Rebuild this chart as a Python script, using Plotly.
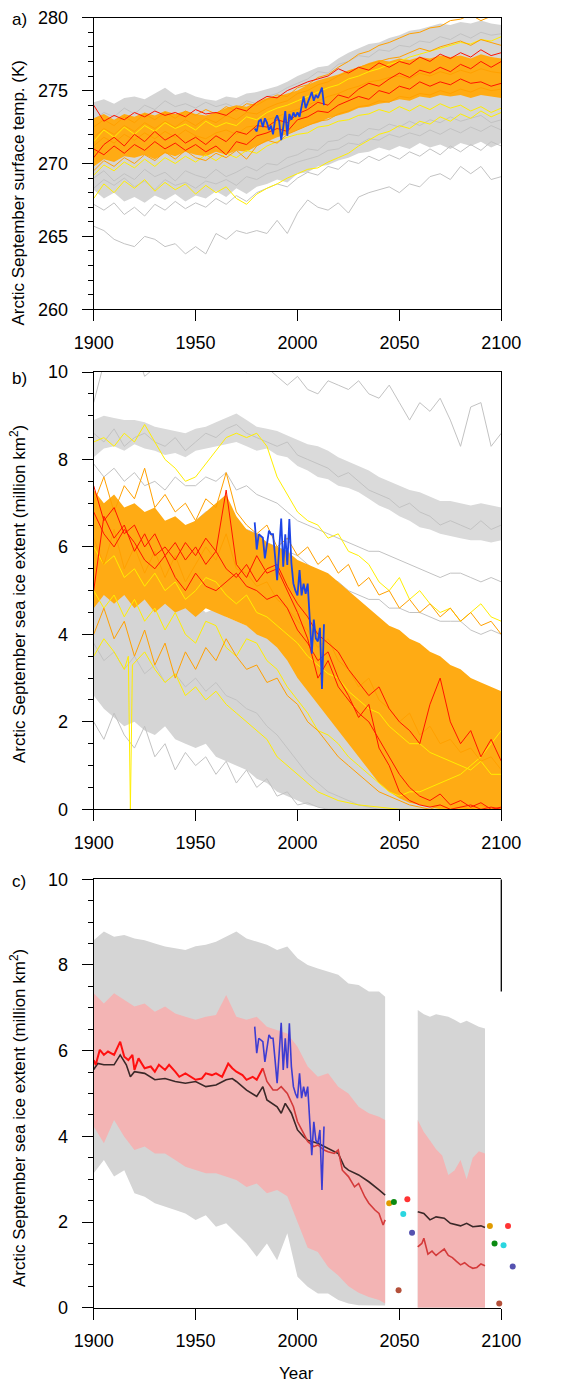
import plotly.graph_objects as go

FONT = "Liberation Sans, Arial, Helvetica, sans-serif"
YEARS_5 = list(range(1900, 2101, 5))
X_TICKS = [1900, 1950, 2000, 2050, 2100]
OBS_YEARS = list(range(1979, 2014))

# ---------------- panel a: September surface temperature (K) ----------------
GA_LO = [268.2, 267.6, 268.0, 267.4, 267.7, 267.3, 267.8, 267.5, 267.9, 267.4,
         267.8, 267.6, 268.1, 267.7, 268.3, 267.9, 268.4, 268.6, 268.9, 268.7,
         269.3, 269.4, 269.8, 269.9, 270.2, 270.4, 270.7, 270.8, 271.1, 270.9,
         271.2, 271.0, 271.4, 271.1, 271.3, 271.0, 271.4, 271.2, 271.5, 271.1, 271.4]
GA_HI = [274.2, 274.4, 274.1, 274.5, 274.6, 274.4, 274.8, 275.2, 274.7, 274.9,
         274.6, 274.4, 274.3, 274.6, 274.5, 274.8, 274.9, 275.1, 275.3, 275.6,
         276.0, 276.3, 276.6, 276.7, 277.2, 277.6, 277.9, 278.2, 278.3, 278.6,
         278.8, 279.1, 279.2, 279.4, 279.6, 279.5, 279.7, 279.6, 279.8, 279.6, 279.5]
OA_LO = [269.8, 270.3, 270.1, 270.5, 270.4, 270.6, 270.3, 270.7, 270.5, 270.8,
         270.6, 270.5, 270.8, 270.6, 270.9, 270.8, 271.2, 271.5, 271.8, 272.0,
         272.3, 272.6, 272.8, 273.1, 273.3, 273.5, 273.8, 273.9, 274.1, 274.2,
         274.4, 274.3, 274.6, 274.5, 274.7, 274.6, 274.7, 274.5, 274.7, 274.6, 274.5]
OA_HI = [273.1, 273.4, 273.0, 273.4, 273.2, 273.5, 273.3, 273.6, 273.4, 273.6,
         273.4, 273.3, 273.5, 273.8, 274.0, 273.9, 274.2, 274.5, 274.6, 274.8,
         275.0, 275.4, 275.7, 275.9, 276.1, 276.4, 276.6, 276.9, 277.1, 277.0,
         277.2, 277.1, 277.3, 277.2, 277.4, 277.3, 277.4, 277.2, 277.5, 277.3, 277.2]
GA_LINES = [
    [265.7, 265.4, 264.8, 264.5, 264.3, 265.0, 264.8, 264.3, 264.5, 263.8,
     264.3, 263.8, 265.2, 264.8, 265.4, 265.2, 265.4, 265.2, 266.1, 265.2,
     266.6, 267.5, 267.0, 266.8, 267.3, 266.6, 267.7, 268.0, 268.2, 268.4,
     268.0, 268.6, 268.4, 269.1, 269.3, 268.9, 269.8, 269.3, 269.8, 268.9, 269.1],
    [267.2, 266.8, 267.3, 266.5, 267.0, 266.4, 267.2, 266.8, 267.4, 266.9,
     267.3, 267.0, 267.6, 267.2, 267.8, 267.4, 268.0, 268.3, 268.6, 268.4,
     269.0, 269.4, 269.2, 269.8, 269.6, 270.2, 270.0, 270.5, 270.2, 270.6,
     270.3, 270.8, 270.5, 271.0, 270.6, 271.2, 270.8, 271.3, 270.9, 271.5, 271.2],
    [269.0, 269.5, 268.8, 269.3, 268.9, 269.6, 269.1, 269.4, 268.8, 269.5,
     269.2, 269.0, 269.6, 269.1, 269.4, 269.8, 269.5, 270.0, 269.9, 270.4,
     270.6, 271.0, 270.9, 271.5, 271.6, 272.0, 271.9, 272.4, 272.3, 272.7,
     272.5, 272.9, 272.6, 273.0, 272.8, 273.2, 272.9, 273.1, 273.3, 272.8, 273.0],
    [268.3, 268.9, 268.5, 269.0, 268.4, 268.8, 268.2, 268.9, 268.5, 268.7,
     268.3, 268.8, 268.6, 268.9, 268.5, 269.1, 268.9, 269.3, 269.5, 269.8,
     270.1, 270.3, 270.5, 270.9, 271.0, 271.4, 271.3, 271.7, 271.6, 272.0,
     271.8, 272.1, 271.9, 272.3, 272.0, 272.4, 272.1, 272.5, 272.2, 272.6, 272.3],
    [273.0, 273.5, 273.2, 273.8, 273.4, 274.0, 273.7, 274.3, 273.9, 274.1,
     273.8, 274.2, 273.9, 274.1, 273.8, 274.3, 274.1, 274.6, 274.8, 275.2,
     275.5, 275.8, 276.3, 276.2, 276.8, 277.0, 277.4, 277.3, 277.8, 277.7,
     278.1, 278.0, 278.4, 278.3, 278.7, 278.5, 278.9, 278.6, 279.0, 278.8, 278.9],
]
YA_LINES = [
    [267.6, 268.6, 268.0, 268.8, 268.3, 268.9, 268.1, 268.7, 268.2, 268.6,
     267.9, 268.5, 268.0, 268.4, 267.6, 267.2, 267.9, 268.3, 268.6, 269.0,
     269.3, 269.6, 269.7, 270.1, 270.4, 270.7, 271.2, 271.6, 272.0, 272.2,
     272.6, 272.4, 272.9, 272.7, 273.2, 272.9, 273.4, 273.1, 273.6, 273.2, 273.5],
    [271.5, 272.3, 271.8, 272.5, 272.0, 272.6, 272.2, 272.8, 272.4, 272.7,
     272.3, 272.9, 272.5, 272.8, 272.6, 273.2, 273.0, 273.5, 273.8, 274.0,
     274.3, 274.6, 274.9, 275.2, 275.4, 275.8, 276.0, 276.3, 276.5, 276.8,
     277.0, 277.3, 277.5, 277.7, 277.9, 278.1, 278.3, 278.2, 278.5, 278.4, 278.7],
    [269.2, 269.9, 269.5, 270.1, 269.7, 270.3, 269.8, 270.4, 270.0, 270.5,
     270.1, 270.6, 270.2, 270.7, 270.4, 270.9, 270.7, 271.2, 271.5, 271.8,
     272.0, 272.1, 272.5, 272.6, 272.9, 273.0, 273.3, 273.4, 273.7, 273.5,
     273.9, 273.6, 274.0, 273.7, 274.1, 273.8, 274.0, 273.6, 273.9, 273.5, 273.8],
]
OA_LINES = [
    [272.5, 273.0, 272.6, 273.2, 272.8, 273.4, 273.0, 273.5, 273.1, 273.6,
     273.3, 273.7, 273.4, 273.9, 273.6, 274.1, 274.0, 274.4, 274.7, 274.6,
     275.2, 275.4, 275.9, 276.1, 276.6, 277.0, 277.5, 277.7, 278.1, 278.3,
     278.6, 278.9, 279.0, 279.3, 279.4, 279.8, 279.9, 280.2, 279.8, 280.1, 280.3],
    [271.8, 272.4, 272.0, 272.6, 272.2, 272.8, 272.4, 272.9, 272.5, 273.0,
     272.6, 273.1, 272.8, 273.3, 273.0, 273.5, 273.4, 273.8, 274.1, 274.3,
     274.8, 275.0, 275.4, 275.6, 276.0, 276.3, 276.6, 276.8, 277.0, 277.2,
     277.3, 277.6, 277.9, 277.7, 278.0, 278.2, 278.4, 278.1, 278.5, 278.3, 278.1],
    [269.5, 270.2, 269.8, 270.4, 270.0, 270.6, 270.2, 270.8, 270.3, 270.9,
     270.4, 270.2, 270.7, 270.4, 270.9, 270.3, 271.2, 271.6, 271.4, 272.0,
     272.3, 272.6, 272.9, 273.0, 273.4, 273.6, 273.9, 274.0, 274.3, 274.2,
     274.6, 274.5, 274.8, 274.7, 275.0, 274.8, 275.1, 274.9, 275.2, 275.0, 275.1],
    [271.2, 271.8, 271.4, 272.0, 271.6, 272.1, 271.7, 272.2, 271.8, 272.3,
     271.9, 271.7, 272.1, 272.3, 272.0, 272.5, 272.6, 273.0, 273.2, 273.5,
     273.7, 274.0, 274.3, 274.6, 274.8, 275.1, 275.3, 275.6, 275.7, 275.9,
     276.0, 275.8, 276.2, 276.0, 276.3, 276.1, 276.4, 276.2, 276.5, 276.3, 276.2],
]
RA_LINES = [
    [274.0, 272.9, 273.3, 273.0, 273.5, 273.2, 273.6, 273.3, 273.5, 273.2,
     273.7, 273.4, 273.5, 273.3, 273.8, 273.6, 274.2, 274.6, 274.5, 275.0,
     275.3, 275.6, 275.8, 276.0, 276.5, 276.2, 276.6, 276.4, 276.9, 276.6,
     277.0, 276.8, 277.3, 277.0, 277.5, 277.2, 277.6, 277.3, 277.8, 277.4, 277.6],
    [270.4, 271.3, 271.8, 271.2, 272.0, 271.5, 272.2, 271.6, 272.0, 271.4,
     271.8, 271.3, 271.9, 271.5, 272.2, 272.0, 272.6, 272.5, 273.0, 272.8,
     273.4, 273.7, 274.2, 274.0, 274.7, 274.5, 275.1, 275.5, 275.3, 275.8,
     276.2, 275.9, 276.4, 276.2, 276.6, 276.3, 276.8, 276.5, 277.0, 276.6, 277.0],
    [271.0, 270.6, 271.2, 270.7, 271.3, 270.9, 271.5, 271.0, 271.4, 270.9,
     271.3, 270.8, 271.2, 270.6, 271.5, 271.3, 271.9, 272.1, 272.4, 272.2,
     273.0, 273.2, 273.6, 273.5, 274.0, 274.3, 274.6, 274.4, 275.0, 274.8,
     275.3, 275.1, 275.6, 275.3, 275.6, 275.4, 275.8, 275.5, 275.6, 275.3, 275.5],
]
OBS_TEMP = [272.4, 272.2, 272.9, 273.0, 272.5, 273.1, 272.8, 272.3, 272.6, 272.0,
            273.0, 273.3, 272.9, 271.6, 272.5, 273.6, 271.9, 273.4, 273.0, 273.5,
            273.2, 273.5, 273.2, 274.0, 274.6, 273.8, 274.2, 274.5, 274.9, 274.3,
            274.7, 274.5, 274.8, 275.2, 274.0]

# ---------------- panel b: September sea ice extent ----------------
GBU_LO = [8.05, 8.25, 8.30, 8.20, 8.35, 8.25, 8.20, 8.10, 8.15, 8.05,
          8.20, 8.25, 8.30, 8.35, 8.40, 8.30, 8.20, 8.25, 8.10, 8.05,
          7.85, 7.75, 7.60, 7.55, 7.40, 7.35, 7.25, 7.10, 6.95, 6.85,
          6.70, 6.60, 6.45, 6.40, 6.30, 6.25, 6.20, 6.15, 6.15, 6.10, 6.15]
GBU_HI = [8.90, 9.00, 8.95, 8.90, 8.90, 8.85, 8.75, 8.70, 8.65, 8.60,
          8.70, 8.75, 8.85, 8.95, 9.05, 8.90, 8.75, 8.70, 8.65, 8.55,
          8.45, 8.35, 8.30, 8.20, 8.05, 7.95, 7.85, 7.75, 7.60, 7.50,
          7.40, 7.30, 7.25, 7.15, 7.05, 7.05, 7.00, 6.95, 7.00, 6.95, 6.90]
GBL_LO = [2.6, 2.3, 2.1, 1.9, 2.0, 1.8, 1.7, 1.9, 1.6, 1.5,
          1.4, 1.5, 1.2, 1.1, 1.0, 0.9, 0.7, 0.6, 0.4, 0.3,
          0.2, 0.1, 0.05, 0.0, 0.0, 0.0, 0.0, 0.0, 0.0, 0.0,
          0.0, 0.0, 0.0, 0.0, 0.0, 0.0, 0.0, 0.0, 0.0, 0.0, 0.0]
GBL_HI = [5.2, 5.0, 5.1, 4.9, 5.0, 4.8, 4.9, 4.7, 4.8, 4.6,
          4.7, 4.5, 4.6, 4.4, 4.3, 4.2, 4.1, 4.0, 3.9, 3.8,
          3.6, 3.3, 3.0, 2.7, 2.4, 2.0, 1.6, 1.3, 1.0, 0.8,
          0.6, 0.5, 0.4, 0.3, 0.3, 0.2, 0.2, 0.2, 0.1, 0.1, 0.1]
OB_LO = [4.6, 4.9, 4.7, 4.9, 4.6, 4.8, 4.5, 4.7, 4.5, 4.6,
         4.4, 4.6, 4.5, 4.4, 4.3, 4.2, 4.0, 3.9, 3.7, 3.4,
         3.0, 2.7, 2.4, 2.1, 1.8, 1.5, 1.2, 0.9, 0.6, 0.4,
         0.25, 0.15, 0.1, 0.05, 0.0, 0.0, 0.0, 0.0, 0.0, 0.0, 0.0]
OB_HI = [7.3, 7.0, 7.2, 6.9, 7.0, 6.8, 6.9, 6.6, 6.7, 6.5,
         6.6, 6.8, 7.0, 7.2, 6.7, 6.4, 6.3, 6.1, 6.0, 5.9,
         5.7, 5.6, 5.5, 5.4, 5.2, 5.0, 4.8, 4.6, 4.4, 4.2,
         4.1, 3.9, 3.8, 3.6, 3.5, 3.3, 3.2, 3.0, 2.9, 2.8, 2.7]
GB_LINES = [
    [9.3, 10.2, 10.5, 10.3, 10.6, 9.9, 10.1, 10.5, 10.8, 10.4,
     10.6, 10.2, 10.5, 10.1, 10.3, 10.0, 10.2, 10.1, 9.9, 9.7,
     9.9, 9.6, 9.5, 9.8, 9.7, 9.6, 9.8, 9.5, 9.4, 9.7,
     9.3, 8.9, 9.3, 9.1, 9.4, 8.9, 8.3, 9.2, 9.3, 8.3, 8.6],
    [7.9, 7.6, 7.8, 7.5, 7.7, 7.4, 7.5, 7.3, 7.6, 7.4,
     7.4, 7.6, 7.5, 7.7, 7.3, 7.4, 7.2, 7.1, 7.0, 6.8,
     6.6, 6.5, 6.4, 6.3, 6.2, 6.1, 6.0, 5.9, 5.9, 5.8,
     5.7, 5.6, 5.5, 5.4, 5.3, 5.4, 5.4, 5.3, 5.2, 5.3, 5.2],
    [7.0, 6.6, 6.9, 6.5, 6.8, 6.4, 6.7, 6.5, 6.6, 6.3,
     6.6, 6.8, 6.8, 6.6, 6.5, 6.4, 6.3, 6.1, 6.0, 5.9,
     5.8, 5.6, 5.4, 5.3, 5.2, 5.0, 4.9, 4.8, 4.8, 4.6,
     4.6, 4.5, 4.5, 4.4, 4.3, 4.3, 4.3, 4.1, 4.0, 4.1, 4.0],
    [2.0, 1.6, 2.2, 1.7, 1.4, 1.9, 1.2, 1.5, 0.9, 1.3,
     1.0, 1.2, 0.8, 1.1, 0.6, 0.9, 0.5, 0.7, 0.3, 0.4,
     0.1, 0.15, 0.05, 0.0, 0.0, 0.0, 0.0, 0.0, 0.0, 0.0,
     0.0, 0.0, 0.0, 0.0, 0.0, 0.0, 0.0, 0.0, 0.0, 0.0, 0.0],
    [3.8, 3.4, 3.6, 3.2, 3.5, 3.1, 3.3, 2.9, 3.1, 2.8,
     3.0, 2.7, 2.9, 2.6, 2.5, 2.3, 2.2, 1.9, 1.7, 1.4,
     1.1, 0.8, 0.6, 0.4, 0.3, 0.2, 0.1, 0.05, 0.0, 0.0,
     0.0, 0.0, 0.0, 0.0, 0.0, 0.0, 0.0, 0.0, 0.0, 0.0, 0.0],
    [8.6, 8.4, 8.7, 8.3, 8.5, 8.6, 8.4, 8.3, 8.5, 8.2,
     8.4, 8.6, 8.5, 8.7, 8.8, 8.6, 8.5, 8.4, 8.3, 8.4,
     8.1, 8.0, 7.9, 7.8, 7.6, 7.7, 7.5, 7.3, 7.2, 7.1,
     6.9, 7.0, 6.8, 6.7, 6.5, 6.6, 6.5, 6.4, 6.6, 6.4, 6.5],
]
YB_LINES = [
    [8.4, 8.5, 8.3, 8.6, 8.4, 8.8, 8.4, 8.0, 7.8, 7.5,
     7.6, 7.9, 8.2, 8.5, 8.6, 8.5, 8.6, 8.3, 7.6, 7.2,
     6.8, 6.6, 6.5, 6.2, 6.3, 5.9, 5.8, 5.6, 5.2, 5.0,
     5.3, 4.8, 5.0, 4.7, 4.5, 4.6, 4.3, 4.5, 4.7, 4.4, 4.3],
    [5.0, 4.6, 4.9, 4.4, 4.8, 4.3, 4.6, 4.1, 4.5, 4.0,
     3.8, 4.3, 4.2, 3.7, 3.5, 3.9, 3.8, 3.4, 3.2, 2.8,
     2.5, 2.2, 1.8, 1.7, 1.5, 1.2, 1.0, 0.8, 0.6, 0.4,
     0.3, 0.4, 0.4, 0.5, 0.6, 0.7, 0.8, 1.0, 1.2, 1.5, 1.8],
    [6.0, 5.6, 5.8, 5.3, 5.5, 5.1, 5.4, 5.0, 5.2, 4.8,
     5.0, 5.3, 5.2, 4.9, 4.7, 4.9, 4.5, 4.4, 4.2, 4.0,
     3.8, 3.5, 3.3, 3.1, 3.0, 2.7, 2.5, 2.3, 2.2, 1.9,
     1.7, 1.5, 1.5, 1.3, 1.2, 1.1, 1.0, 0.9, 1.1, 0.8, 0.8],
]
YB_SPIKE_YEARS = [1900, 1905, 1910, 1915, 1917, 1918, 1919, 1925, 1930, 1935,
                  1940, 1945, 1950, 1955, 1960, 1965, 1970, 1975, 1980, 1985,
                  1990, 1995, 2000, 2005, 2010, 2015, 2020, 2030, 2040, 2050,
                  2060, 2070, 2080, 2090, 2100]
YB_SPIKE = [3.5, 3.9, 3.6, 3.2, 3.5, 0.0, 3.3, 3.6, 3.2, 2.9,
            3.1, 2.6, 2.8, 2.5, 2.7, 2.4, 2.2, 2.0, 1.8, 1.6,
            1.2, 1.0, 0.8, 0.6, 0.4, 0.3, 0.2, 0.1, 0.05, 0.0,
            0.0, 0.0, 0.0, 0.0, 0.0]
OB_LINES = [
    [7.0, 7.6, 6.8, 7.4, 7.1, 7.8, 6.9, 7.2, 6.8, 7.0,
     6.6, 7.1, 6.9, 7.7, 6.8, 6.5, 6.3, 6.5, 6.0, 6.2,
     5.8, 6.0, 5.6, 5.8, 5.4, 5.6, 5.1, 5.3, 4.9, 5.0,
     4.6, 4.8, 4.5, 4.7, 4.4, 4.6, 4.3, 4.5, 4.2, 4.3, 4.0],
    [4.0, 4.6, 3.9, 4.3, 3.5, 4.1, 3.3, 3.8, 3.0, 3.6,
     3.2, 3.7, 3.4, 3.9, 3.5, 3.2, 3.3, 2.9, 3.0, 2.6,
     2.4, 2.0, 1.8, 1.5, 1.2, 1.0, 0.8, 0.6, 0.4, 0.3,
     0.2, 0.1, 0.05, 0.0, 0.1, 0.0, 0.05, 0.0, 0.1, 0.0, 0.0],
    [6.2, 5.6, 6.4, 5.5, 6.0, 5.4, 5.9, 5.3, 5.8, 5.2,
     5.6, 6.0, 5.7, 6.3, 5.5, 5.4, 5.1, 5.2, 4.8, 4.6,
     4.3, 4.1, 3.7, 3.9, 3.4, 3.2, 2.8, 3.0, 2.5, 2.3,
     2.0, 2.2, 1.7, 1.9, 1.5, 1.6, 1.3, 1.4, 1.1, 1.2, 0.9],
]
RB_LINES = [
    [7.4, 6.6, 6.9, 6.3, 6.5, 6.0, 6.3, 5.8, 6.1, 5.7,
     6.0, 5.6, 5.9, 7.3, 5.6, 5.3, 5.8, 5.4, 5.5, 5.0,
     4.5, 3.9, 3.0, 3.4, 2.8, 2.5, 2.2, 2.0, 1.6, 1.2,
     0.8, 0.5, 0.3, 0.2, 0.35, 0.1, 0.2, 0.05, 0.15, 0.0, 0.05],
    [5.0, 6.7, 6.2, 6.5, 5.9, 6.3, 5.8, 6.0, 5.7, 6.1,
     5.8, 6.2, 5.9, 5.5, 5.3, 5.6, 5.2, 5.5, 5.6, 5.1,
     4.7, 4.4, 4.0, 3.8, 3.6, 3.2, 2.9, 2.6, 2.8, 2.3,
     2.0, 1.8, 1.5, 2.4, 3.0, 2.0, 1.5, 1.8, 1.2, 1.6, 1.1],
    [6.8, 6.3, 6.0, 6.4, 6.1, 5.7, 5.5, 5.8, 5.3, 5.0,
     5.4, 5.1, 5.0, 5.2, 5.4, 5.1, 5.0, 4.8, 4.9, 4.6,
     4.1, 3.8, 3.4, 3.6, 3.0, 2.6, 2.1, 2.4, 1.4, 1.0,
     0.4, 0.2, 0.1, 0.05, 0.1, 0.0, 0.05, 0.1, 0.0, 0.05, 0.0],
]
OBS_SIE = [6.56, 5.94, 6.29, 6.25, 6.21, 5.74, 6.02, 6.37, 6.29, 6.29,
           5.78, 5.24, 5.94, 6.65, 5.55, 6.29, 5.59, 6.64, 5.63, 5.16,
           5.0, 4.89, 5.47, 4.89, 5.16, 4.93, 5.16, 4.3, 3.56, 4.34,
           3.91, 3.84, 4.15, 2.75, 4.23]

# ---------------- panel c: ensemble ranges and means ----------------
C_BAND_YEARS = list(range(1900, 2041, 5)) + [2043]
C_GRAY_HI = [8.58, 8.78, 8.66, 8.7, 8.62, 8.58, 8.5, 8.43, 8.39, 8.35,
             8.44, 8.47, 8.54, 8.66, 8.78, 8.62, 8.54, 8.47, 8.35, 8.43,
             8.16, 8.0, 7.92, 7.84, 7.77, 7.57, 7.53, 7.38, 7.38, 7.26]
C_GRAY_LO = [3.14, 3.45, 3.06, 3.21, 2.67, 2.59, 2.44, 2.36, 2.28, 2.2,
             2.05, 2.16, 1.89, 1.97, 1.74, 1.5, 1.19, 1.5, 1.11, 1.74,
             0.72, 0.49, 0.33, 0.33, 0.18, 0.1, 0.06, 0.05, 0.05, 0.05]
C_PINK_HI = [7.34, 7.1, 7.34, 7.18, 7.03, 7.1, 6.91, 7.03, 6.87, 6.79,
             6.72, 6.79, 6.83, 7.3, 6.79, 6.72, 6.79, 6.56, 6.48, 6.4,
             6.09, 5.63, 5.39, 5.47, 5.16, 5.0, 4.69, 4.54, 4.46, 4.38]
C_PINK_LO = [4.23, 3.84, 4.38, 3.99, 3.68, 3.76, 3.6, 3.6, 3.45, 3.29,
             3.21, 3.14, 3.14, 3.06, 2.98, 2.82, 2.9, 2.67, 2.75, 2.6,
             2.0, 1.4, 1.3, 0.95, 0.75, 0.5, 0.35, 0.25, 0.18, 0.1]
C2_YEARS = [2059, 2062, 2065, 2068, 2071, 2074, 2077, 2080, 2083, 2086, 2089, 2092]
C2_GRAY_HI = [6.95, 6.85, 6.79, 6.85, 6.82, 6.79, 6.72, 6.64, 6.7, 6.62, 6.56, 6.52]
C2_PINK_HI = [4.38, 4.1, 3.9, 3.7, 3.55, 3.1, 3.2, 3.45, 3.0, 3.5, 3.65, 3.6]
C2_LO = [0.0, 0.0, 0.0, 0.0, 0.0, 0.0, 0.0, 0.0, 0.0, 0.0, 0.0, 0.0]

C_MEAN_YEARS = [1900, 1902, 1905, 1910, 1913, 1916, 1918, 1920, 1925, 1930,
                1935, 1940, 1945, 1950, 1955, 1960, 1965, 1968, 1970, 1975,
                1980, 1983, 1985, 1990, 1992, 1994, 1997, 2000, 2003, 2005,
                2010, 2015, 2020, 2023, 2025, 2030, 2035, 2040, 2043]
C_MEAN = [5.56, 5.7, 5.67, 5.67, 5.9, 5.67, 5.39, 5.51, 5.47, 5.32,
          5.35, 5.28, 5.24, 5.28, 5.16, 5.2, 5.32, 5.35, 5.28, 5.08,
          4.93, 5.16, 4.85, 4.69, 4.54, 4.77, 4.54, 4.15, 3.99, 3.91,
          3.84, 3.72, 3.6, 3.29, 3.21, 3.1, 2.94, 2.75, 2.63]
C2_MEAN_YEARS = [2059, 2062, 2065, 2068, 2072, 2075, 2080, 2083, 2086, 2090, 2092]
C2_MEAN = [2.24, 2.2, 2.05, 2.12, 2.09, 1.97, 1.91, 1.97, 1.89, 1.91, 1.87]

C_RED_YEARS = [1900, 1901, 1903, 1905, 1907, 1910, 1913, 1915, 1917, 1919,
               1920, 1922, 1925, 1928, 1930, 1932, 1935, 1937, 1940, 1942,
               1945, 1948, 1950, 1953, 1955, 1958, 1960, 1963, 1966, 1968,
               1970, 1973, 1975, 1978, 1980, 1983, 1985, 1988, 1990, 1992,
               1995, 1998, 2000, 2003, 2005, 2008, 2010, 2013, 2015, 2018,
               2020, 2022, 2025, 2028, 2030, 2033, 2035, 2038, 2040, 2042, 2043]
C_RED = [5.78, 5.67, 6.02, 5.9, 5.98, 5.9, 6.21, 5.86, 5.78, 5.9,
         5.55, 5.82, 5.59, 5.63, 5.51, 5.67, 5.55, 5.67, 5.51, 5.39,
         5.47, 5.39, 5.32, 5.35, 5.47, 5.43, 5.47, 5.39, 5.7, 5.59,
         5.51, 5.43, 5.32, 5.39, 5.32, 5.59, 5.28, 5.08, 5.08, 5.16,
         5.0, 4.69, 4.34, 4.07, 3.88, 3.76, 3.8, 3.68, 3.64, 3.6,
         3.68, 3.21, 3.06, 2.82, 2.9, 2.59, 2.44, 2.28, 2.2, 1.93, 2.05]
C2_RED_YEARS = [2059, 2061, 2062, 2064, 2066, 2068, 2070, 2072, 2074, 2076,
                2078, 2080, 2082, 2084, 2086, 2088, 2090, 2092]
C2_RED = [1.42, 1.5, 1.62, 1.25, 1.32, 1.22, 1.3, 1.37, 1.22, 1.17,
          1.08, 1.0, 1.05, 0.97, 0.92, 0.94, 1.02, 0.98]

DOT_YEARS = [2045, 2047.3, 2049.6, 2051.9, 2053.9, 2056.2,
             2094.4, 2096.7, 2099.0, 2101.1, 2103.3, 2105.6]
DOT_VALUES = [2.44, 2.47, 0.41, 2.19, 2.53, 1.75,
              1.91, 1.5, 0.1, 1.46, 1.91, 0.96]
DOT_COLORS = ["#e09b00", "#0b8a12", "#b4503a", "#2ad6e0", "#ff3333", "#5552b0",
              "#e09b00", "#0b8a12", "#b4503a", "#2ad6e0", "#ff3333", "#5552b0"]

# ---------------- styles ----------------
GRAY_FILL = "#d5d5d5"
GRAY_LINE = "#c2c2c2"
ORANGE_FILL = "#ffab14"
ORANGE = "#ffa000"
YELLOW = "#ffee00"
RED = "#ff1400"
BLUE = "#1d45e6"

fig = go.Figure()


def band(x, lo, hi, color, xa, ya):
    fig.add_trace(go.Scatter(
        x=list(x) + list(x)[::-1], y=list(hi) + list(lo)[::-1],
        mode="lines", fill="toself", fillcolor=color,
        line=dict(width=0, color=color), hoverinfo="skip",
        xaxis=xa, yaxis=ya, showlegend=False))


def line(x, y, color, width, xa, ya):
    fig.add_trace(go.Scatter(
        x=x, y=y, mode="lines", line=dict(color=color, width=width),
        hoverinfo="skip", xaxis=xa, yaxis=ya, showlegend=False))


# panel a
band(YEARS_5, GA_LO, GA_HI, GRAY_FILL, "x", "y")
for ys in GA_LINES:
    line(YEARS_5, ys, GRAY_LINE, 1, "x", "y")
band(YEARS_5, OA_LO, OA_HI, ORANGE_FILL, "x", "y")
for ys in YA_LINES:
    line(YEARS_5, ys, YELLOW, 1, "x", "y")
for ys in OA_LINES:
    line(YEARS_5, ys, ORANGE, 1, "x", "y")
for ys in RA_LINES:
    line(YEARS_5, ys, RED, 1, "x", "y")
line(OBS_YEARS, OBS_TEMP, BLUE, 1.8, "x", "y")

# panel b
band(YEARS_5, GBU_LO, GBU_HI, "#dadada", "x2", "y2")
band(YEARS_5, GBL_LO, GBL_HI, GRAY_FILL, "x2", "y2")
for ys in GB_LINES:
    line(YEARS_5, ys, GRAY_LINE, 1, "x2", "y2")
band(YEARS_5, OB_LO, OB_HI, ORANGE_FILL, "x2", "y2")
for ys in YB_LINES:
    line(YEARS_5, ys, YELLOW, 1, "x2", "y2")
line(YB_SPIKE_YEARS, YB_SPIKE, YELLOW, 1, "x2", "y2")
for ys in OB_LINES:
    line(YEARS_5, ys, ORANGE, 1, "x2", "y2")
for ys in RB_LINES:
    line(YEARS_5, ys, RED, 1, "x2", "y2")
line(OBS_YEARS, OBS_SIE, BLUE, 1.8, "x2", "y2")

# panel c
band(C_BAND_YEARS, C_GRAY_LO, C_GRAY_HI, "#d5d5d5", "x3", "y3")
band(C_BAND_YEARS, C_PINK_LO, C_PINK_HI, "#f3b4b4", "x3", "y3")
band(C2_YEARS, C2_LO, C2_GRAY_HI, "#d5d5d5", "x3", "y3")
band(C2_YEARS, C2_LO, C2_PINK_HI, "#f3b4b4", "x3", "y3")
line(C_MEAN_YEARS, C_MEAN, "#3a2828", 1.6, "x3", "y3")
line(C2_MEAN_YEARS, C2_MEAN, "#3a2828", 1.6, "x3", "y3")
split = C_RED_YEARS.index(1983)
line(C_RED_YEARS[:split + 1], C_RED[:split + 1], "#ff1010", 2, "x3", "y3")
line(C_RED_YEARS[split:], C_RED[split:], "#d43a3a", 1.6, "x3", "y3")
line(C2_RED_YEARS, C2_RED, "#d43a3a", 1.6, "x3", "y3")
line(OBS_YEARS, OBS_SIE, "#3c3cd2", 1.6, "x3", "y3")
# the end-of-period model dots run a little past 2100, so they use a
# hidden x axis that extends the panel-c year scale by 10 years
fig.add_trace(go.Scatter(
    x=DOT_YEARS, y=DOT_VALUES, mode="markers", cliponaxis=False,
    marker=dict(color=DOT_COLORS, size=6, line=dict(width=0)),
    hoverinfo="skip", xaxis="x4", yaxis="y3", showlegend=False))

# ---------------- layout ----------------
H = 1393.0
W = 561.0
OFF = 8.0  # page offset of the figure inside the browser window


def px_x(px):
    return (px - OFF) / W


def px_y(py):
    return 1 - (py - OFF) / H


XDOM = [px_x(93.7), px_x(501.3)]
EXTRA = 10
XDOM_EXT = [XDOM[0], XDOM[1] + (XDOM[1] - XDOM[0]) * EXTRA / 200.0]


def ydom(top_px, bottom_px):
    return [px_y(bottom_px), px_y(top_px)]


tickfont = dict(family=FONT, size=18, color="black")


def xaxis(anchor):
    return dict(domain=XDOM, range=[1900, 2100], tickmode="linear", tick0=1900,
                dtick=50, ticks="outside", ticklen=11, tickwidth=1.3,
                tickcolor="black", showline=True, linewidth=1.3,
                linecolor="black", mirror=True, showgrid=False,
                zeroline=False, tickfont=tickfont, anchor=anchor,
                automargin=False, ticklabelstandoff=6)


def yaxis(anchor, dom, rng, dtick, minor, mirror=True):
    return dict(domain=dom, range=rng, tickmode="linear", tick0=rng[0],
                dtick=dtick, ticks="outside", ticklen=11, tickwidth=1.3,
                tickcolor="black",
                minor=dict(dtick=minor, tick0=rng[0], ticks="outside",
                           ticklen=5, tickwidth=1, tickcolor="black",
                           showgrid=False),
                showline=True, linewidth=1.3, linecolor="black",
                mirror=mirror, showgrid=False, zeroline=False,
                tickfont=tickfont, anchor=anchor, automargin=False,
                ticklabelstandoff=10)


annotations = [
    dict(text="a)", x=px_x(19), y=px_y(19)),
    dict(text="b)", x=px_x(19), y=px_y(378)),
    dict(text="c)", x=px_x(19), y=px_y(881)),
    dict(text="Arctic September surface temp. (K)", x=px_x(18),
         y=px_y(193.5), textangle=-90),
    dict(text="Arctic September sea ice extent (million km<sup>2</sup>)",
         x=px_x(18), y=px_y(594), textangle=-90),
    dict(text="Arctic September sea ice extent (million km<sup>2</sup>)",
         x=px_x(18), y=px_y(1118), textangle=-90),
    dict(text="Year", x=px_x(296), y=px_y(1373)),
]
for a in annotations:
    a.update(xref="paper", yref="paper", showarrow=False, xanchor="center",
             yanchor="middle", font=dict(family=FONT, size=17, color="black"))

fig.update_layout(
    width=561, height=1393,
    margin=dict(l=0, r=0, t=0, b=0, pad=0, autoexpand=False),
    paper_bgcolor="white", plot_bgcolor="rgba(0,0,0,0)",
    showlegend=False,
    xaxis=xaxis("y"),
    yaxis=yaxis("x", ydom(17.7, 309.3), [260, 280], 5, 1),
    xaxis2=xaxis("y2"),
    yaxis2=yaxis("x2", ydom(372, 809.3), [0, 10], 2, 0.5),
    xaxis3=xaxis("y3"),
    yaxis3=yaxis("x3", ydom(879.3, 1307.7), [0, 10], 2, 0.5, mirror=False),
    xaxis4=dict(domain=XDOM_EXT, range=[1900, 2100 + EXTRA], visible=False,
                anchor="y3", showgrid=False, zeroline=False, automargin=False),
    annotations=annotations,
    shapes=[dict(type="line", xref="x3 domain", x0=1, x1=1, yref="y3",
                 y0=7.38, y1=10, line=dict(color="black", width=1.3))],
)

fig.write_html("out.html")
